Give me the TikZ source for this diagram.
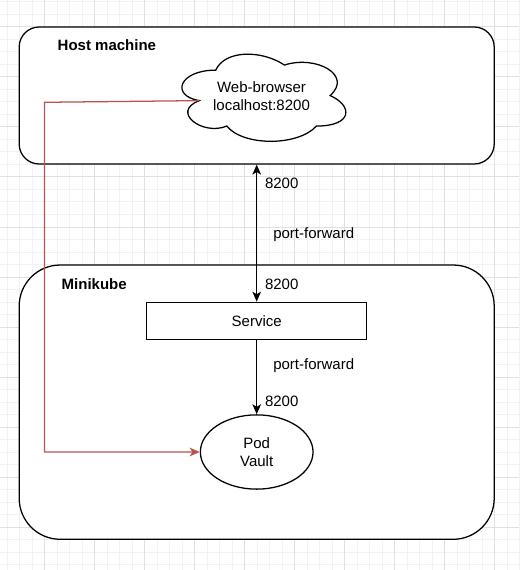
\documentclass[tikz,border=0pt]{standalone}
\usepackage{fontspec}
\setmainfont{Liberation Sans}
\usetikzlibrary{arrows.meta,shapes.geometric}
\definecolor{gridminor}{HTML}{F2F2F2}
\definecolor{gridmajor}{HTML}{E0E0E0}
\definecolor{redline}{HTML}{B85450}
\newcommand\diafont{\fontsize{11.25pt}{13.5pt}\selectfont}
\begin{document}
\begin{tikzpicture}[x=0.75pt,y=-0.75pt,
  font=\diafont,
  >={Stealth[length=7.5pt,width=6.5pt,inset=2pt]},
  box/.style={draw=black, fill=white, line width=0.95pt},
  lbl/.style={anchor=base west, inner sep=0pt, outer sep=0pt},
  conn/.style={line width=0.95pt},
  minorline/.style={gridminor, line width=0.75pt},
  majorline/.style={gridmajor, line width=0.75pt}]
\useasboundingbox (0,0) rectangle (519,570);
\fill[white] (0,0) rectangle (519,570);
% grid
\foreach \i in {0,...,41} \draw[minorline] ({7+12.5*\i},0) -- ({7+12.5*\i},570);
\foreach \j in {0,...,45} \draw[minorline] (0,{2+12.5*\j}) -- (519,{2+12.5*\j});
\foreach \i in {0,...,9} \draw[majorline] ({44.5+50*\i},0) -- ({44.5+50*\i},570);
\foreach \j in {0,...,10} \draw[majorline] (0,{27+50*\j}) -- (519,{27+50*\j});

% containers
\node[box, rounded corners=15pt, minimum width=356.25pt, minimum height=102.75pt] (host) at (256.7,95.5) {};
\node[lbl, font=\diafont\bfseries] (hostlbl) at (57.7,51) {Host machine};
\node[box, rounded corners=30.75pt, minimum width=356.25pt, minimum height=205.7pt] (mini) at (256.7,402.15) {};
\node[lbl, font=\diafont\bfseries] (minilbl) at (61.7,289.3) {Minikube};

% cloud
\draw[box] (215.75,70.125) .. controls (179.15,70.125) and (170,95.55) .. (199.28,100.635)
  .. controls (170,111.822) and (202.94,136.23) .. (226.73,126.06)
  .. controls (243.2,146.4) and (298.1,146.4) .. (316.4,126.06)
  .. controls (353,126.06) and (353,105.72) .. (330.125,95.55)
  .. controls (353,75.21) and (316.4,54.87) .. (284.375,65.04)
  .. controls (261.5,49.785) and (224.9,49.785) .. (215.75,70.125) -- cycle;
\node[align=center, inner sep=0pt] (web) at (261.5,96) {Web-browser\\localhost:8200};
\coordinate (cloudL) at (199.28,100.635);

% service and pod
\node[box, minimum width=165pt, minimum height=28.1pt] (svc) at (256.7,321) {Service};
\node[box, ellipse, minimum width=84.5pt, minimum height=55.7pt, align=center, inner sep=0pt] (pod) at (256.7,452) {Pod\\Vault};

% connectors
\draw[conn, <->] (host.south) -- (svc.north);
\draw[conn, ->] (svc.south) -- (pod.north);
\coordinate (bend1) at (44.5,102.3);
\coordinate (bend2) at (44.5,452);
\draw[conn, redline, ->] (cloudL) -- (bend1) -- (bend2) -- (pod.west);

% labels
\node[lbl] (p1) at (265,189) {8200};
\node[lbl] (pf1) at (273.3,238.5) {port-forward};
\node[lbl] (p2) at (265,289.4) {8200};
\node[lbl] (pf2) at (273.3,369.5) {port-forward};
\node[lbl] (p3) at (265,406.7) {8200};
\end{tikzpicture}
\end{document}
